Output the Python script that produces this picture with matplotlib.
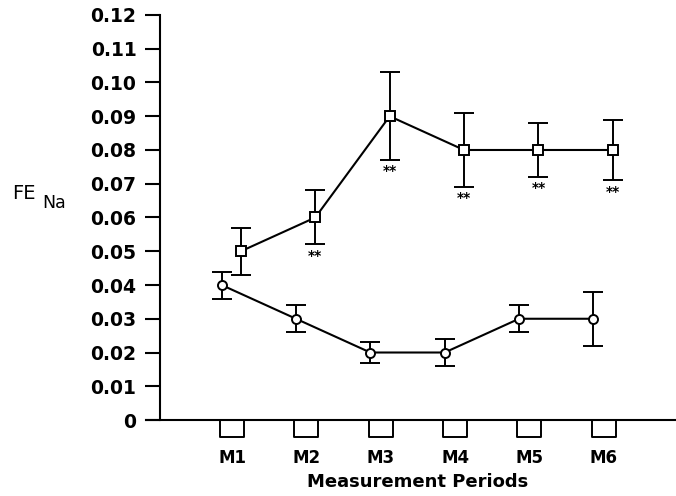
import matplotlib
matplotlib.use("Agg")
import matplotlib.pyplot as plt
from matplotlib.path import Path

periods = ["M1", "M2", "M3", "M4", "M5", "M6"]

# square series (upper)
square_mean = [0.050, 0.060, 0.090, 0.080, 0.080, 0.080]
square_low = [0.043, 0.052, 0.077, 0.069, 0.072, 0.071]
square_high = [0.057, 0.068, 0.103, 0.091, 0.088, 0.089]
square_sig = ["", "**", "**", "**", "**", "**"]

# circle series (lower)
circle_mean = [0.040, 0.030, 0.020, 0.020, 0.030, 0.030]
circle_low = [0.036, 0.026, 0.017, 0.016, 0.026, 0.022]
circle_high = [0.044, 0.034, 0.023, 0.024, 0.034, 0.038]

y_ticks = [0, 0.01, 0.02, 0.03, 0.04, 0.05, 0.06, 0.07, 0.08, 0.09, 0.10, 0.11, 0.12]
y_labels = ["0", "0.01", "0.02", "0.03", "0.04", "0.05", "0.06", "0.07",
            "0.08", "0.09", "0.10", "0.11", "0.12"]

plt.rcParams["font.family"] = "DejaVu Sans"

fig = plt.figure(figsize=(6.76, 4.96), dpi=100)
ax = fig.add_axes([0.2367, 0.1532, 0.7633, 0.8166])

x = list(range(1, len(periods) + 1))
xs = [v + 0.12 for v in x]
xc = [v - 0.14 for v in x]

sq_err = [[m - lo for m, lo in zip(square_mean, square_low)],
          [hi - m for m, hi in zip(square_mean, square_high)]]
ci_err = [[m - lo for m, lo in zip(circle_mean, circle_low)],
          [hi - m for m, hi in zip(circle_mean, circle_high)]]

ax.errorbar(xs, square_mean, yerr=sq_err, color="black", lw=1.5,
            marker="s", ms=6.5, mfc="white", mec="black", mew=1.4,
            capsize=7, capthick=1.6, elinewidth=1.4, zorder=3)
ax.errorbar(xc, circle_mean, yerr=ci_err, color="black", lw=1.5,
            marker="o", ms=6.5, mfc="white", mec="black", mew=1.4,
            capsize=7, capthick=1.6, elinewidth=1.4, zorder=3)

for xi, lo, s in zip(xs, square_low, square_sig):
    if s:
        ax.annotate(s, (xi, lo), xytext=(0, -3), textcoords="offset points",
                    ha="center", va="top", fontsize=10, fontweight="bold")

# open box tick marks hanging below the x axis
box = Path([(-11.5, 0), (-11.5, -17), (11.5, -17), (11.5, 0)],
           [Path.MOVETO, Path.LINETO, Path.LINETO, Path.LINETO])
ax.plot(x, [0] * len(x), linestyle="none", marker=box, ms=24.5,
        mfc="none", mec="black", mew=1.4, clip_on=False)

ax.set_xlim(0.032, 6.97)
ax.set_ylim(0, 0.12)
ax.set_yticks(y_ticks)
ax.set_yticklabels(y_labels, fontsize=13.5, fontweight="bold")
ax.set_xticks(x)
ax.set_xticklabels(periods, fontsize=12, fontweight="bold")
ax.tick_params(axis="x", length=0, pad=21)
ax.tick_params(axis="y", direction="out", length=11, width=1.5, pad=6)

for side in ["top", "right"]:
    ax.spines[side].set_visible(False)
ax.spines["left"].set_linewidth(1.5)
ax.spines["bottom"].set_linewidth(1.5)
ax.spines["bottom"].set_bounds(-0.16, 6.97)

ax.set_xlabel("Measurement Periods", fontsize=13, fontweight="bold", labelpad=4)

fig.text(0.018, 0.610, "FE", fontsize=14, va="center", ha="left")
fig.text(0.062, 0.590, "Na", fontsize=12.5, va="center", ha="left")

fig.savefig("out.png", dpi=100, facecolor="white")
